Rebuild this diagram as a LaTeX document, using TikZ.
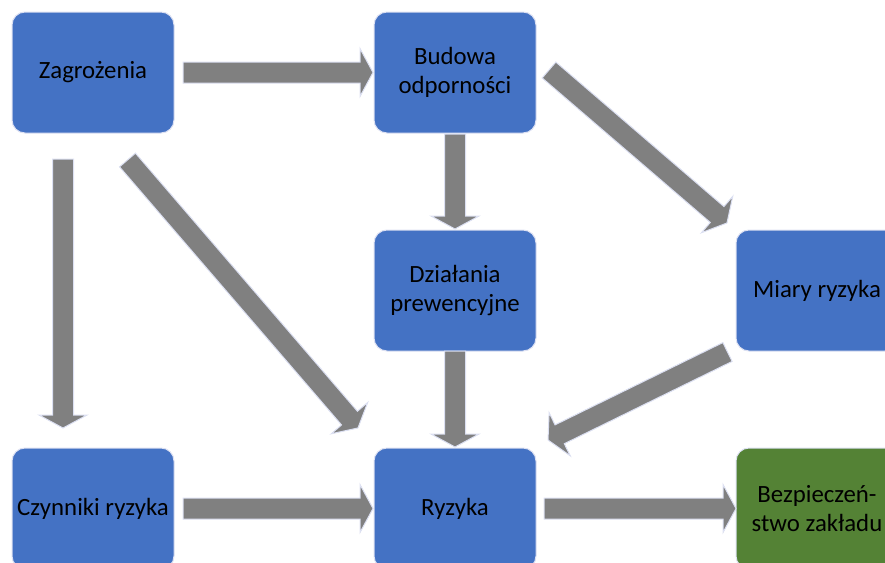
\documentclass[tikz,border=0pt]{standalone}
\usepackage{fontspec}
\setmainfont{Carlito}
\usetikzlibrary{calc}
\definecolor{boxblue}{HTML}{4472C4}
\definecolor{boxgreen}{HTML}{548235}
\definecolor{arrowgray}{HTML}{808080}
\definecolor{rim}{HTML}{DCE0F2}
\tikzset{
  stage/.style={rectangle, rounded corners=13, minimum width=162, minimum height=121,
    fill=boxblue, draw=rim, line width=1, outer sep=0, inner sep=0, align=center,
    text=black, font=\fontsize{24.8}{29}\selectfont},
  goal/.style={stage, fill=boxgreen},
  % wide block arrow: shaft 21 wide, short head 48 wide and 13 long
  blockarrow/.style={fill=arrowgray, draw=rim, line width=1, line join=miter,
    to path={let \p1=(\tikztostart), \p2=(\tikztotarget),
      \n1={atan2(\y2-\y1,\x2-\x1)}, \n2={veclen(\x2-\x1,\y2-\y1)} in
      [shift={(\p1)}, rotate=\n1]
      (0,10.5) -- ({\n2-13},10.5) -- ({\n2-13},24) -- (\n2,0)
      -- ({\n2-13},-24) -- ({\n2-13},-10.5) -- (0,-10.5) -- cycle}}
}
\begin{document}
\begin{tikzpicture}[x=1pt, y=1pt]
  \useasboundingbox (0,0) rectangle (885,-562);
  \clip (0,0) rectangle (885,-562);

  % boxes
  \node[stage] (zag) at (93,-72.5)  {Zagrożenia};
  \node[stage] (bud) at (455,-72.5) {Budowa\\odporności};
  \node[stage] (dzi) at (455,-290.5) {Działania\\prewencyjne};
  \node[stage] (mia) at (817,-290.5) {Miary ryzyka};
  \node[stage] (czy) at (93,-508.5) {Czynniki ryzyka};
  \node[stage] (ryz) at (455,-508.5) {Ryzyka};
  \node[goal]  (bez) at (817,-508.5) {Bezpieczeń-\\stwo zakładu};

  % arrow end points, set a little off the boxes
  \coordinate (a1s) at ([xshift=9]zag.east);
  \coordinate (a1e) at ([xshift=-1]bud.west);
  \coordinate (a2s) at ([yshift=-1]bud.south);
  \coordinate (a2e) at ([yshift=1]dzi.north);
  \coordinate (a3s) at ([xshift=-30,yshift=-26]zag.south);
  \coordinate (a3e) at ([xshift=-30,yshift=20]czy.north);
  \coordinate (a4s) at ([xshift=-46.5,yshift=-27]zag.south east);
  \coordinate (a4e) at ([xshift=-16,yshift=20]ryz.north west);
  \coordinate (a5s) at ([xshift=13,yshift=2.5]bud.east);
  \coordinate (a5e) at ([xshift=-9,yshift=7]mia.north west);
  \coordinate (a6s) at (dzi.south);
  \coordinate (a6e) at ([yshift=1]ryz.north);
  \coordinate (a7s) at ([xshift=-8.5,yshift=-1]mia.south west);
  \coordinate (a7e) at ([xshift=12,yshift=8]ryz.north east);
  \coordinate (a8s) at ([xshift=9]czy.east);
  \coordinate (a8e) at ([xshift=-1]ryz.west);
  \coordinate (a9s) at ([xshift=8]ryz.east);
  \coordinate (a9e) at (bez.west);

  % connectors
  \draw[blockarrow] (a1s) to (a1e);
  \draw[blockarrow] (a2s) to (a2e);
  \draw[blockarrow] (a3s) to (a3e);
  \draw[blockarrow] (a4s) to (a4e);
  \draw[blockarrow] (a5s) to (a5e);
  \draw[blockarrow] (a6s) to (a6e);
  \draw[blockarrow] (a7s) to (a7e);
  \draw[blockarrow] (a8s) to (a8e);
  \draw[blockarrow] (a9s) to (a9e);
\end{tikzpicture}
\end{document}
